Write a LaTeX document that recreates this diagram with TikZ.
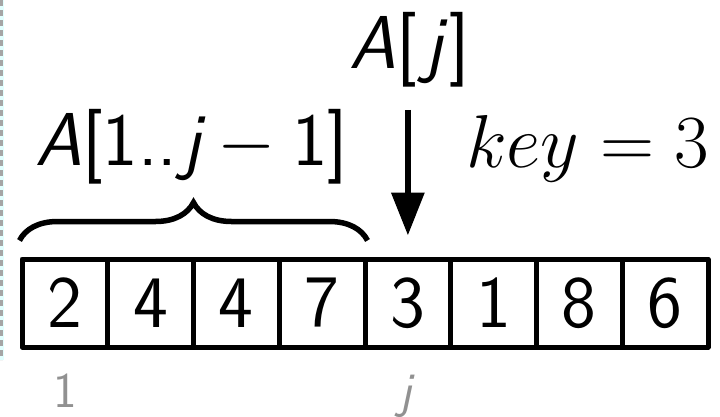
\RequirePackage{fix-cm}
\documentclass[tikz,border=0pt]{standalone}
\usepackage{fontspec}
\usetikzlibrary{arrows.meta,decorations.pathreplacing}
\DeclareMathSizes{74}{74}{52}{37}
\definecolor{labelgray}{RGB}{145,145,145}
\definecolor{dashgray}{RGB}{165,165,165}
\definecolor{stripcyan}{RGB}{226,255,255}
\tikzset{
  cell/.style={draw, line width=5pt, line join=round, minimum width=85.75pt, minimum height=88pt, inner sep=0pt, font=\fontsize{74}{80}\selectfont\sffamily},
  bigtext/.style={inner sep=0pt, anchor=base, font=\fontsize{75}{80}\selectfont},
  idx/.style={inner sep=0pt, anchor=base, text=labelgray, font=\fontsize{50}{56}\selectfont\sffamily},
  pointer/.style={line width=6.5pt, -{Triangle[width=32pt,length=43pt]}},
  bracestyle/.style={line width=5.5pt, decorate, decoration={brace, amplitude=38pt}}
}
\begin{document}
\begin{tikzpicture}[x=1pt, y=-1pt]
\useasboundingbox (0,0) rectangle (720,416);
% left edge strip
\fill[stripcyan] (0,0) rectangle (4,360);
\draw[dashgray, line width=3pt, dash pattern=on 6pt off 4pt] (1.5,0) -- (1.5,360);
% cells
\foreach \v [count=\i] in {2,4,4,7,3,1,8,6} {
  \node[cell] (c\i) at ({22+(\i-0.5)*85.75}, 303) {\v};
}
% index labels
\node[idx] (i1) at (65,407) {1};
\node[idx] (ij) at (406,407) {\itshape j};
% brace
\draw[bracestyle] ([yshift=16pt]c1.north west) -- ([yshift=16pt]c4.north east);
% brace label
\node[bigtext] (sub) at (192,165) {{\sffamily\itshape A}{\sffamily[1..\kern5pt}{\sffamily\itshape j}${}-{}${\sffamily 1]}};
% A[j]
\node[bigtext] (Aj) at (409.5,68) {{\sffamily\itshape A}{\sffamily[\kern8pt}{\sffamily\itshape j\kern6pt}{\sffamily]}};
\draw[pointer, shorten <=23pt, shorten >=21pt] (c5.north |- Aj.south) -- (c5.north);
% key
\node[bigtext, anchor=base west] (key) at (466,167) {$key = 3$};
\end{tikzpicture}
\end{document}
